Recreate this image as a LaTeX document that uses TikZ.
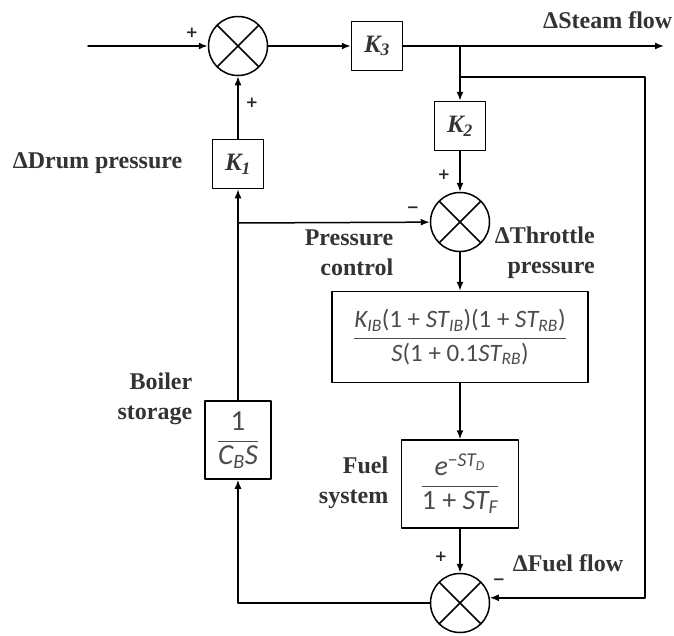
\documentclass[tikz,border=0pt]{standalone}
\usepackage{fontspec}
\setmainfont{Liberation Serif}
\newfontfamily\calfont{Carlito}
\newfontfamily\signfont{DejaVu Sans}
\usetikzlibrary{arrows.meta}
\newcommand{\mi}[1]{{\itshape #1}}
\newcommand{\blockfrac}[2]{$\displaystyle\frac{\mbox{#1}}{\mbox{#2}}$}
\tikzset{
	blk/.style={draw,line width=1.5pt,inner sep=2pt,fill=white},
	gain/.style={blk,minimum width=51pt,minimum height=49pt,font=\fontsize{25}{28}\selectfont\bfseries\itshape,text=black!80},
	tfblk/.style={blk,font=\calfont\fontsize{25}{28}\selectfont,text=black!70},
	sumjn/.style={draw,circle,line width=1.5pt,minimum size=59pt,inner sep=0pt,
		path picture={\draw[line width=1.5pt] (path picture bounding box.north west)--(path picture bounding box.south east)
			(path picture bounding box.north east)--(path picture bounding box.south west);}},
	lbl/.style={font=\fontsize{24}{30}\selectfont\bfseries,text=black!80,inner sep=0pt},
	sgn/.style={font=\signfont\fontsize{15}{15}\selectfont\bfseries,text=black!85,inner sep=0pt}
}
\begin{document}
\begin{tikzpicture}[line cap=round,line join=round,>={Latex[length=9pt,width=7pt]},x=1pt,y=-1pt,line width=1.5pt]
	\useasboundingbox (0,0) rectangle (674,635);
	% blocks
	\node[sumjn] (sum1) at (238,46) {};
	\node[gain] (k3) at (377,46) {K\textsubscript{3}};
	\node[gain] (k2) at (460,126) {K\textsubscript{2}};
	\node[sumjn] (sum2) at (460,222) {};
	\node[gain] (k1) at (238,164) {K\textsubscript{1}};
	\node[tfblk,minimum width=256pt,minimum height=91pt] (ctrl) at (460,337)
		{\blockfrac{\mi{K}\textsubscript{\mi{IB}}(1 + \mi{ST}\textsubscript{\mi{IB}})(1 + \mi{ST}\textsubscript{\mi{RB}})}{\mi{S}(1 + 0.1\mi{ST}\textsubscript{\mi{RB}})}};
	\node[tfblk,minimum width=117pt,minimum height=88pt,font=\calfont\fontsize{28}{30}\selectfont] (fuel) at (460,484)
		{\blockfrac{\mi{e}\textsuperscript{−\mi{ST}\textsubscript{\mi{D}}}}{1 + \mi{ST}\textsubscript{\mi{F}}}};
	\node[sumjn] (sum3) at (460,603) {};
	\node[tfblk,minimum width=66pt,minimum height=78pt,font=\calfont\fontsize{29}{30}\selectfont] (boil) at (238,440)
		{\blockfrac{1}{\mi{C}\textsubscript{\mi{B}}\mi{S}}};
	\coordinate (in) at (88,46);
	\coordinate (out) at (664,46);
	\coordinate (tap) at (k2.north |- k3.east);
	\coordinate (tap2) at (460,77);
	\coordinate (fb) at (645,77);
	\coordinate (pb) at (238,223);
	% connectors
	\draw[->] (in) -- (sum1);
	\draw[->] (sum1) -- (k3);
	\draw[->] (k3) -- (out);
	\draw[->] (tap) -- (k2);
	\draw[->] (k2) -- (sum2);
	\draw[->] (tap2) -| (fb) |- (sum3.10);
	\draw[->] (sum2) -- (ctrl);
	\draw[->] (ctrl) -- (fuel);
	\draw[->] (fuel) -- (sum3);
	\draw[->] (sum3.west) -| (boil.south);
	\draw[->] (boil) -- (k1);
	\draw[->] (pb) -- (sum2);
	\draw[->] (k1) -- (sum1);
	% labels
	\node[lbl,anchor=east] (steam) at (673,20) {ΔSteam flow};
	\node[lbl,anchor=east] (drum) at (183,163) {ΔDrum pressure};
	\node[lbl,anchor=east,align=right] (pctrl) at (394,253) {Pressure\\control};
	\node[lbl,anchor=west,align=right] (thr) at (494,253) {ΔThrottle\\pressure};
	\node[lbl,anchor=east,align=right] (bst) at (193,399) {Boiler\\storage};
	\node[lbl,anchor=east,align=right] (fsys) at (389,483) {Fuel\\system};
	\node[lbl,anchor=west] (fflow) at (512,563) {ΔFuel flow};
	\node[sgn] (p1) at (192,33) {+};
	\node[sgn] (p2) at (252,103) {+};
	\node[sgn] (p3) at (444,175) {+};
	\node[sgn] (m1) at (413,210) {−};
	\node[sgn] (p4) at (441,557) {+};
	\node[sgn] (m2) at (499,582) {−};
\end{tikzpicture}
\end{document}
